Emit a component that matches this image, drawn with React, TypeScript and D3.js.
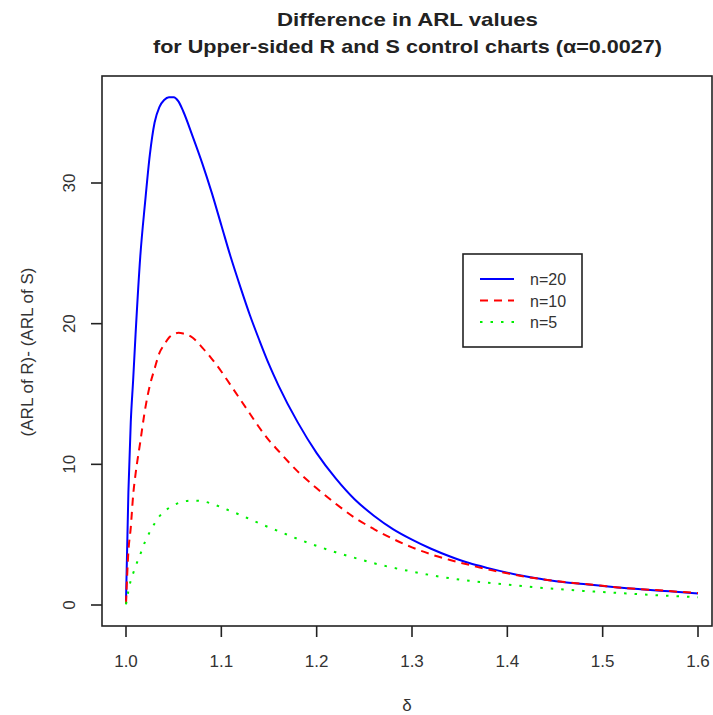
import React from "react";
import * as d3 from "d3";

const delta = [1.0, 1.0025, 1.005, 1.0075, 1.01, 1.015, 1.02, 1.025, 1.03, 1.035, 1.04, 1.045, 1.05, 1.055, 1.06, 1.07, 1.08, 1.09, 1.1, 1.11, 1.12, 1.13, 1.14, 1.15, 1.16, 1.18, 1.2, 1.22, 1.24, 1.26, 1.28, 1.3, 1.32, 1.34, 1.36, 1.38, 1.4, 1.42, 1.44, 1.46, 1.48, 1.5, 1.52, 1.54, 1.56, 1.58, 1.6];

const n20 = [0.3, 8.0, 13.0, 16.0, 19.2, 24.8, 28.6, 32.0, 34.3, 35.4, 35.9, 36.1, 36.1, 35.8, 35.1, 33.3, 31.4, 29.3, 27.0, 24.7, 22.6, 20.6, 18.8, 17.1, 15.6, 13.0, 10.8, 9.0, 7.5, 6.35, 5.4, 4.65, 4.0, 3.45, 2.98, 2.62, 2.3, 2.02, 1.8, 1.62, 1.5, 1.35, 1.22, 1.12, 1.02, 0.92, 0.82];

const n10 = [0.1, 3.8, 5.5, 7.8, 9.3, 11.6, 13.9, 15.6, 16.8, 17.9, 18.5, 19.0, 19.25, 19.35, 19.3, 19.0, 18.3, 17.5, 16.6, 15.6, 14.6, 13.6, 12.6, 11.7, 10.95, 9.5, 8.3, 7.2, 6.2, 5.4, 4.7, 4.1, 3.6, 3.2, 2.85, 2.52, 2.25, 2.0, 1.8, 1.63, 1.5, 1.36, 1.23, 1.13, 1.04, 0.94, 0.85];

const n5 = [0.05, 1.0, 1.75, 2.25, 2.75, 3.6, 4.5, 5.2, 5.8, 6.3, 6.65, 6.9, 7.1, 7.25, 7.35, 7.42, 7.38, 7.2, 6.95, 6.67, 6.4, 6.1, 5.8, 5.52, 5.25, 4.7, 4.2, 3.75, 3.35, 2.97, 2.65, 2.38, 2.12, 1.9, 1.72, 1.58, 1.45, 1.32, 1.2, 1.1, 1.0, 0.92, 0.84, 0.76, 0.68, 0.62, 0.55];

const xTicks = [1.0, 1.1, 1.2, 1.3, 1.4, 1.5, 1.6];
const yTicks = [0, 10, 20, 30];

const seriesNames = ["n=20", "n=10", "n=5"];
const seriesValues = [n20, n10, n5];
const seriesColors = ["#0000ff", "#ff0000", "#00ee00"];
const seriesDash = ["none", "8,6", "2.5,8"];

const W = 713;
const H = 715;
const box = { left: 102, right: 712, top: 76, bottom: 626 };

export default function App() {
  const x = d3.scaleLinear().domain([1.0, 1.6]).range([126, 698]);
  const y = d3.scaleLinear().domain([0, 30]).range([605, 183]);
  const font = "'Liberation Sans', Arial, Helvetica, sans-serif";

  const line = (vals: number[]) =>
    d3
      .line<number>()
      .x((_, i) => x(delta[i]))
      .y((v) => y(v))
      .curve(d3.curveMonotoneX)(vals) || "";

  const axisColor = "#222";
  const labelColor = "#333";

  return (
    <svg
      width={W}
      height={H}
      style={{ position: "absolute", left: 0, top: 0, background: "#fff" }}
      fontFamily={font}
    >
      <rect x={0} y={0} width={W} height={H} fill="#fff" />
      {/* title */}
      <text x={407.5} y={26} textAnchor="middle" fontSize={19} fontWeight="bold" fill="#222"
        textLength={261} lengthAdjust="spacingAndGlyphs">
        Difference in ARL values
      </text>
      <text x={407.5} y={53} textAnchor="middle" fontSize={19} fontWeight="bold" fill="#222"
        textLength={509} lengthAdjust="spacingAndGlyphs">
        for Upper-sided R and S control charts (α=0.0027)
      </text>

      <defs>
        <clipPath id="clip">
          <rect x={box.left} y={box.top} width={box.right - box.left} height={box.bottom - box.top} />
        </clipPath>
      </defs>

      {/* curves */}
      <g clipPath="url(#clip)">
        {seriesValues.map((vals, i) => (
          <path
            key={i}
            d={line(vals)}
            fill="none"
            stroke={seriesColors[i]}
            strokeWidth={2}
            strokeDasharray={seriesDash[i]}
          />
        ))}
      </g>

      {/* box */}
      <rect
        x={box.left}
        y={box.top}
        width={box.right - box.left}
        height={box.bottom - box.top}
        fill="none"
        stroke={axisColor}
        strokeWidth={1.6}
      />

      {/* x axis */}
      {xTicks.map((t) => (
        <g key={t}>
          <line x1={x(t)} x2={x(t)} y1={box.bottom} y2={box.bottom + 11} stroke={axisColor} strokeWidth={1.6} />
          <text x={x(t)} y={667} textAnchor="middle" fontSize={17} fill={labelColor}>
            {t.toFixed(1)}
          </text>
        </g>
      ))}
      <text x={407} y={711} textAnchor="middle" fontSize={17} fill={labelColor}>
        δ
      </text>

      {/* y axis */}
      {yTicks.map((t) => (
        <g key={t}>
          <line x1={box.left - 11} x2={box.left} y1={y(t)} y2={y(t)} stroke={axisColor} strokeWidth={1.6} />
          <text
            x={0}
            y={0}
            transform={`translate(75,${y(t)}) rotate(-90)`}
            textAnchor="middle"
            fontSize={17}
            fill={labelColor}
          >
            {t}
          </text>
        </g>
      ))}
      <text
        transform={`translate(33,352) rotate(-90)`}
        textAnchor="middle"
        fontSize={17}
        fill={labelColor}
      >
        (ARL of R)- (ARL of S)
      </text>

      {/* legend */}
      <rect x={463} y={254} width={119} height={93} fill="#fff" stroke={axisColor} strokeWidth={1.6} />
      {seriesNames.map((name, i) => {
        const ly = 279 + i * 21.5;
        return (
          <g key={name}>
            <line x1={480} x2={514} y1={ly} y2={ly} stroke={seriesColors[i]} strokeWidth={2} strokeDasharray={seriesDash[i]} />
            <text x={530} y={ly + 6} fontSize={16} fill={labelColor}>
              {name}
            </text>
          </g>
        );
      })}
    </svg>
  );
}
